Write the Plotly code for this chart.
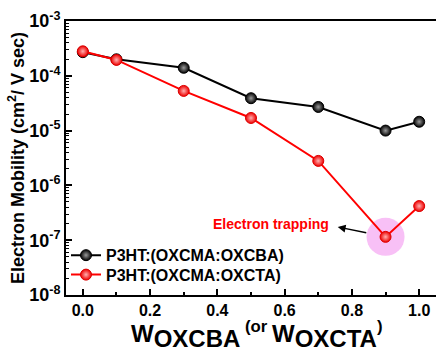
import plotly.graph_objects as go

x_vals = [0.0, 0.1, 0.3, 0.5, 0.7, 0.9, 1.0]
oxcba = [2.7e-4, 2.0e-4, 1.4e-4, 3.9e-5, 2.7e-5, 1.0e-5, 1.45e-5]
oxcta = [2.8e-4, 1.95e-4, 5.3e-5, 1.7e-5, 2.8e-6, 1.15e-7, 4.2e-7]
series_names = ["P3HT:(OXCMA:OXCBA)", "P3HT:(OXCMA:OXCTA)"]
trap_x = [0.9]
trap_y = [1.15e-7]
x_ticks = [0.0, 0.2, 0.4, 0.6, 0.8, 1.0]
x_ticklabels = ["<b>0.0</b>", "<b>0.2</b>", "<b>0.4</b>", "<b>0.6</b>", "<b>0.8</b>", "<b>1.0</b>"]
y_exps = [-8, -7, -6, -5, -4, -3]

FONT = "Liberation Sans, Arial, sans-serif"

fig = go.Figure()
fig.add_trace(go.Scatter(x=trap_x, y=trap_y, mode="markers", showlegend=False,
                         marker=dict(size=38, color="#f8c0f6", line=dict(width=0)),
                         hoverinfo="skip"))
fig.add_trace(go.Scatter(x=x_vals, y=oxcba, mode="lines+markers", name="<b>" + series_names[0] + "</b>",
                         legend="legend",
                         line=dict(color="black", width=2),
                         marker=dict(size=11, color="black",
                                     gradient=dict(type="radial", color="#9a9a9a"),
                                     line=dict(color="black", width=1))))
fig.add_trace(go.Scatter(x=x_vals, y=oxcta, mode="lines+markers", name="<b>" + series_names[1] + "</b>",
                         legend="legend2",
                         line=dict(color="#ff0000", width=2),
                         marker=dict(size=11, color="#ee0000",
                                     gradient=dict(type="radial", color="#ffb0b0"),
                                     line=dict(color="#dd0000", width=1))))

minor_vals = [m * 10.0 ** e for e in y_exps[:-1] for m in range(2, 10)]

leg_common = dict(x=0.0, xanchor="left", yanchor="middle",
                  font=dict(size=16, family=FONT, color="black"),
                  bgcolor="rgba(0,0,0,0)", itemwidth=30)

fig.update_layout(
    width=436, height=348,
    margin=dict(l=66, r=0, t=21, b=53, autoexpand=False),
    paper_bgcolor="white", plot_bgcolor="white",
    font=dict(family=FONT, color="black"),
    showlegend=True,
    legend=dict(y=0.145, **leg_common),
    legend2=dict(y=0.074, **leg_common),
    xaxis=dict(range=[-0.05, 1.05], tickvals=x_ticks, ticktext=x_ticklabels,
               ticks="inside", ticklen=6, tickwidth=1.5, tickcolor="black",
               minor=dict(tickvals=[0.1, 0.3, 0.5, 0.7, 0.9], ticks="inside", ticklen=3,
                          tickcolor="black", tickwidth=1.5),
               showline=True, linecolor="black", linewidth=2, mirror=True,
               showgrid=False, zeroline=False, automargin=False,
               tickfont=dict(size=16, family=FONT)),
    yaxis=dict(type="log", range=[-8, -3],
               tickvals=[10.0 ** e for e in y_exps],
               ticktext=["<b>10<sup>%d</sup></b>" % e for e in y_exps],
               ticks="inside", ticklen=6, tickwidth=1.5, tickcolor="black",
               minor=dict(tickvals=minor_vals, ticks="inside", ticklen=3,
                          tickcolor="black", tickwidth=1),
               showline=True, linecolor="black", linewidth=2, mirror=False,
               showgrid=False, zeroline=False, automargin=False,
               tickfont=dict(size=18, family=FONT),
               title=dict(text="<b>Electron Mobility (cm<sup>2</sup>/ V sec)</b>",
                          font=dict(size=18, family=FONT), standoff=0)),
    annotations=[
        dict(x=0.758, y=-6.76, xref="x", yref="y", text="", showarrow=True,
             ax=30, ay=6, arrowhead=2, arrowsize=1.2, arrowwidth=1.3, arrowcolor="black"),
        dict(x=0.56, y=-6.70, xref="x", yref="y", text="<b>Electron trapping</b>", showarrow=False,
             font=dict(size=14, color="#ff0000", family=FONT)),
        dict(x=0.515, y=-0.215, xref="paper", yref="paper", xanchor="center", yanchor="bottom",
             text=("<b>W<sub><span style='font-size:24px'>OXCBA</span></sub>"
                   "<sup> (or </sup>W<sub><span style='font-size:24px'>OXCTA</span></sub>"
                   "<sup>)</sup></b>"),
             showarrow=False, font=dict(size=24, family=FONT, color="black")),
    ],
)

fig.write_html("out.html", config={"displayModeBar": False},
               post_script="document.body.style.margin='0px';")
